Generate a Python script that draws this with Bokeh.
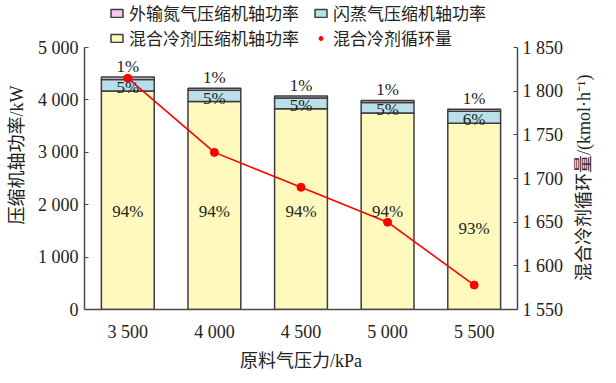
from math import pi
from bokeh.plotting import figure
from bokeh.layouts import row
from bokeh.models import (ColumnDataSource, FactorRange, Range1d, LinearAxis,
                          FixedTicker, Legend, LegendItem, Label)
from bokeh.core.properties import value
from bokeh.embed import file_html
from bokeh.resources import INLINE

# ---- data ----
pressures = ["3 500", "4 000", "4 500", "5 000", "5 500"]
mr_power = [4170, 3970, 3830, 3750, 3555]      # 混合冷剂压缩机轴功率
flash_power = [221, 212, 205, 200, 229]        # 闪蒸气压缩机轴功率
n2_power = [44, 42, 41, 40, 38]                # 外输氮气压缩机轴功率
mr_flow = [1815, 1730, 1690, 1650, 1578]       # 混合冷剂循环量
mr_pct = ["94%", "94%", "94%", "94%", "93%"]
flash_pct = ["5%", "5%", "5%", "5%", "6%"]
n2_pct = ["1%", "1%", "1%", "1%", "1%"]
mr_pct_y = [1870, 1870, 1870, 1870, 1550]

left_ticks = [0, 1000, 2000, 3000, 4000, 5000]
left_tick_labels = ["0", "1 000", "2 000", "3 000", "4 000", "5 000"]
right_ticks = [1550, 1600, 1650, 1700, 1750, 1800, 1850]
right_tick_labels = ["1 550", "1 600", "1 650", "1 700", "1 750", "1 800", "1 850"]

SERIF = "'Liberation Serif', 'Noto Sans CJK SC'"
NUM = "Liberation Serif"
AX = "#4a4a4a"
TXT = "#222222"

src = ColumnDataSource(dict(
    x=pressures, mr=mr_power, flash=flash_power, n2=n2_power, flow=mr_flow,
    mr_pct=mr_pct, flash_pct=flash_pct, n2_pct=n2_pct, mr_pct_y=mr_pct_y,
    flash_y=[m + f * 0.3 for m, f in zip(mr_power, flash_power)],
    top=[m + f + n for m, f, n in zip(mr_power, flash_power, n2_power)],
))

flow_range = Range1d(1550, 1904)

# frame extends up to the page top so the legend can sit inside it;
# the axes are bounded to 0..5000 and 1550..1850
p = figure(frame_width=433, frame_height=309, x_range=FactorRange(*pressures),
           y_range=Range1d(0, 5897), output_backend="svg", toolbar_location=None,
           min_border_left=84, min_border_right=50, min_border_top=0,
           min_border_bottom=0)
p.extra_y_ranges = {"flow": flow_range}
p.outline_line_color = None
p.xgrid.visible = False
p.ygrid.visible = False

bars = p.vbar_stack(["mr", "flash", "n2"], x="x", width=0.61, source=src,
                    fill_color=["#FFF9BE", "#B9DFE9", "#F5C8F0"],
                    line_color="#3c3c3c", line_width=1.5)

line = p.line("x", "flow", source=src, y_range_name="flow",
              line_color="#FF0000", line_width=1.6)
dots = p.scatter("x", "flow", source=src, y_range_name="flow", marker="circle",
                 size=8, fill_color="#FF0000", line_color="#FF0000")

# percentage labels
p.text("x", "mr_pct_y", text="mr_pct", source=src, text_align="center",
       text_baseline="middle", text_font=value(NUM), text_font_size="17px",
       text_color=TXT)
p.text("x", "flash_y", text="flash_pct", source=src, text_align="center",
       text_baseline="middle", text_font=value(NUM), text_font_size="17px",
       text_color=TXT)
p.text("x", "top", text="n2_pct", source=src, text_align="center",
       text_baseline="bottom", y_offset=-1, text_font=value(NUM),
       text_font_size="17px", text_color=TXT)

# axes
xa = p.xaxis[0]
xa.axis_label = "原料气压力/kPa"
xa.major_tick_line_color = None
xa.minor_tick_line_color = None
xa.axis_line_color = AX
xa.axis_line_width = 1.5
xa.major_label_text_font = NUM
xa.major_label_text_font_size = "18px"
xa.major_label_text_color = TXT
xa.major_label_standoff = 6
xa.axis_label_text_font = SERIF
xa.axis_label_text_font_size = "18px"
xa.axis_label_text_font_style = "normal"
xa.axis_label_text_color = TXT
xa.axis_label_standoff = 6

ya = p.yaxis[0]
ya.ticker = FixedTicker(ticks=left_ticks)
ya.bounds = (0, 5000)
ya.major_label_overrides = dict(zip(left_ticks, left_tick_labels))
ya.axis_label = "压缩机轴功率/kW"
ya.minor_tick_line_color = None
ya.major_tick_in = 4
ya.major_tick_out = 0
ya.major_tick_line_color = AX
ya.axis_line_color = AX
ya.axis_line_width = 1.5
ya.major_label_text_font = NUM
ya.major_label_text_font_size = "18px"
ya.major_label_text_color = TXT
ya.major_label_standoff = 6
ya.axis_label_text_font = SERIF
ya.axis_label_text_font_size = "18px"
ya.axis_label_text_font_style = "normal"
ya.axis_label_text_color = TXT
ya.axis_label_standoff = 8

ra = LinearAxis(y_range_name="flow", ticker=FixedTicker(ticks=right_ticks),
                bounds=(1550, 1850))
ra.major_label_overrides = dict(zip(right_ticks, right_tick_labels))
ra.minor_tick_line_color = None
ra.major_tick_in = 4
ra.major_tick_out = 0
ra.major_tick_line_color = AX
ra.axis_line_color = AX
ra.axis_line_width = 1.5
ra.major_label_text_font = NUM
ra.major_label_text_font_size = "18px"
ra.major_label_text_color = TXT
ra.major_label_standoff = 5
p.add_layout(ra, "right")

# legend: two rows inside the (extended) frame
leg_common = dict(border_line_alpha=0, background_fill_alpha=0, padding=0,
                  margin=0, orientation="horizontal", glyph_width=15,
                  glyph_height=10, label_standoff=5, spacing=14,
                  label_text_font=SERIF, label_text_font_size="17px",
                  label_text_color=TXT)
leg1 = Legend(items=[LegendItem(label="外输氮气压缩机轴功率", renderers=[bars[2]]),
                     LegendItem(label="闪蒸气压缩机轴功率", renderers=[bars[1]])],
              location=(25, 284), **leg_common)
leg2 = Legend(items=[LegendItem(label="混合冷剂压缩机轴功率", renderers=[bars[0]]),
                     LegendItem(label="混合冷剂循环量", renderers=[dots])],
              location=(25, 259), **leg_common)
p.add_layout(leg1)
p.add_layout(leg2)

# right-hand axis title, read from bottom to top, in a narrow strip
t = figure(frame_width=33, frame_height=309, x_range=Range1d(0, 1),
           y_range=flow_range, output_backend="svg", toolbar_location=None,
           x_axis_type=None, y_axis_type=None, min_border=0)
t.outline_line_color = None
t.xgrid.visible = False
t.ygrid.visible = False
t.add_layout(Label(x=0.5, y=1701, text="混合冷剂循环量/(kmol·h⁻¹)",
                   angle=pi / 2, text_align="center", text_baseline="middle",
                   text_font=SERIF, text_font_size="18px", text_color=TXT))

open("out.html", "w").write(file_html(row(p, t), INLINE))
